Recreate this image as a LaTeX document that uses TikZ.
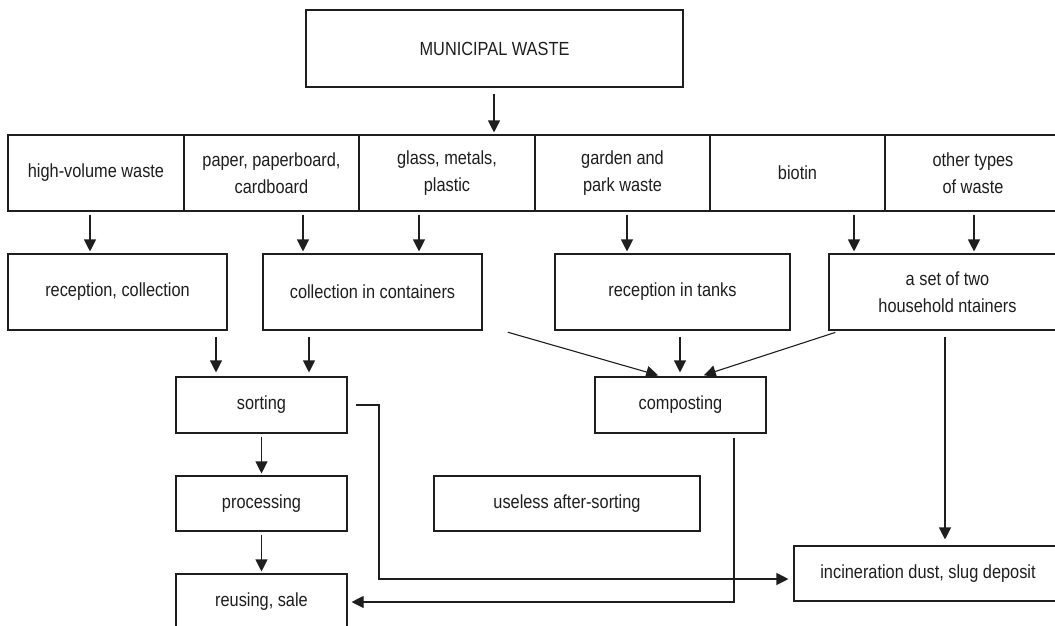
\documentclass[tikz,border=0pt]{standalone}
\usepackage{fontspec}
\setmainfont{Liberation Sans}[FakeStretch=0.86]
\usetikzlibrary{arrows.meta}
\definecolor{ink}{HTML}{1E1E1E}
\begin{document}
\begin{tikzpicture}[x=1pt,y=-1pt,
  box/.style={draw=ink,line width=1.1pt,inner sep=0pt,align=center,text=ink,
    font=\fontsize{19}{27}\selectfont},
  arr/.style={draw=ink,line width=1.1pt,-{Triangle[width=12pt,length=12pt]},
    shorten <=3pt,shorten >=2pt},
  ln/.style={draw=ink,line width=1.1pt}]
\clip (0,0) rectangle (1055,625);
\fill[white] (0,0) rectangle (1055,625);
% top
\node[box,minimum width=377pt,minimum height=77pt] (mw) at (494.5,48.5) {MUNICIPAL WASTE};
% categories
\node[box,minimum width=176pt,minimum height=76pt] (c1) at (96,173) {high-volume waste};
\node[box,minimum width=175pt,minimum height=76pt] (c2) at (271.5,173) {paper, paperboard,\\cardboard};
\node[box,minimum width=176pt,minimum height=76pt] (c3) at (447,173) {glass, metals,\\plastic};
\node[box,minimum width=175pt,minimum height=76pt] (c4) at (622.5,173) {garden and\\park waste};
\node[box,minimum width=175pt,minimum height=76pt] (c5) at (797.5,173) {biotin};
\node[box,minimum width=176pt,minimum height=76pt] (c6) at (973,173) {other types\\of waste};
% second row
\node[box,minimum width=219pt,minimum height=76pt] (r1) at (117.5,292) {reception, collection};
\node[box,minimum width=219pt,minimum height=76pt] (r2) at (372.5,292) {collection in containers};
\node[box,minimum width=235pt,minimum height=76pt] (r3) at (672.5,292) {reception in tanks};
\node[box,minimum width=237pt,minimum height=76pt] (r4) at (947.5,292) {a set of two\\household ntainers};
% lower
\node[box,minimum width=171pt,minimum height=56pt] (so) at (261.5,405) {sorting};
\node[box,minimum width=171pt,minimum height=55pt] (pr) at (261.5,503.5) {processing};
\node[box,minimum width=171pt,minimum height=56pt] (re) at (261.5,602) {reusing, sale};
\node[box,minimum width=266pt,minimum height=55pt] (us) at (567,503.5) {useless after-sorting};
\node[box,minimum width=171pt,minimum height=56pt] (co) at (680.5,405) {composting};
\node[box,minimum width=268pt,minimum height=55pt] (in) at (928,573.5) {incineration dust, slug deposit};
% connectors
\draw[arr,shorten <=6pt] (mw.south -| 494,0) -- (c3.north -| 494,0);
\draw[arr] (c1.south -| 90,0) -- (r1.north -| 90,0);
\draw[arr] (c2.south -| 303,0) -- (r2.north -| 303,0);
\draw[arr] (c3.south -| 419,0) -- (r2.north -| 419,0);
\draw[arr] (c4.south -| 627,0) -- (r3.north -| 627,0);
\draw[arr] (c5.south -| 854,0) -- (r4.north -| 854,0);
\draw[arr] (c6.south -| 974,0) -- (r4.north -| 974,0);
\draw[arr,shorten <=6pt,shorten >=4pt] (r1.south -| 216,0) -- (so.north -| 216,0);
\draw[arr,shorten <=6pt,shorten >=4pt] (r2.south -| 309,0) -- (so.north -| 309,0);
\draw[arr] (so.south) -- (pr.north);
\draw[arr] (pr.south) -- (re.north);
\draw[arr,shorten <=6pt,shorten >=4pt] (r2.south -| 502,0) -- (co.north -| 662,0);
\draw[arr,shorten <=6pt,shorten >=4pt] (r3.south -| 680,0) -- (co.north -| 680,0);
\draw[arr,shorten <=6pt,shorten >=4pt] (r4.south -| 841,0) -- (co.north -| 700,0);
\draw[arr,shorten <=6pt,shorten >=6pt] (r4.south -| 945,0) -- (in.north -| 945,0);
\draw[arr,shorten <=8pt,shorten >=5pt] (so.east) -- (379,405) |- ([yshift=-5.5pt]in.west);
\draw[arr,shorten <=4pt,shorten >=4pt] (co.south -| 734,0) |- (re.east);
\end{tikzpicture}
\end{document}
